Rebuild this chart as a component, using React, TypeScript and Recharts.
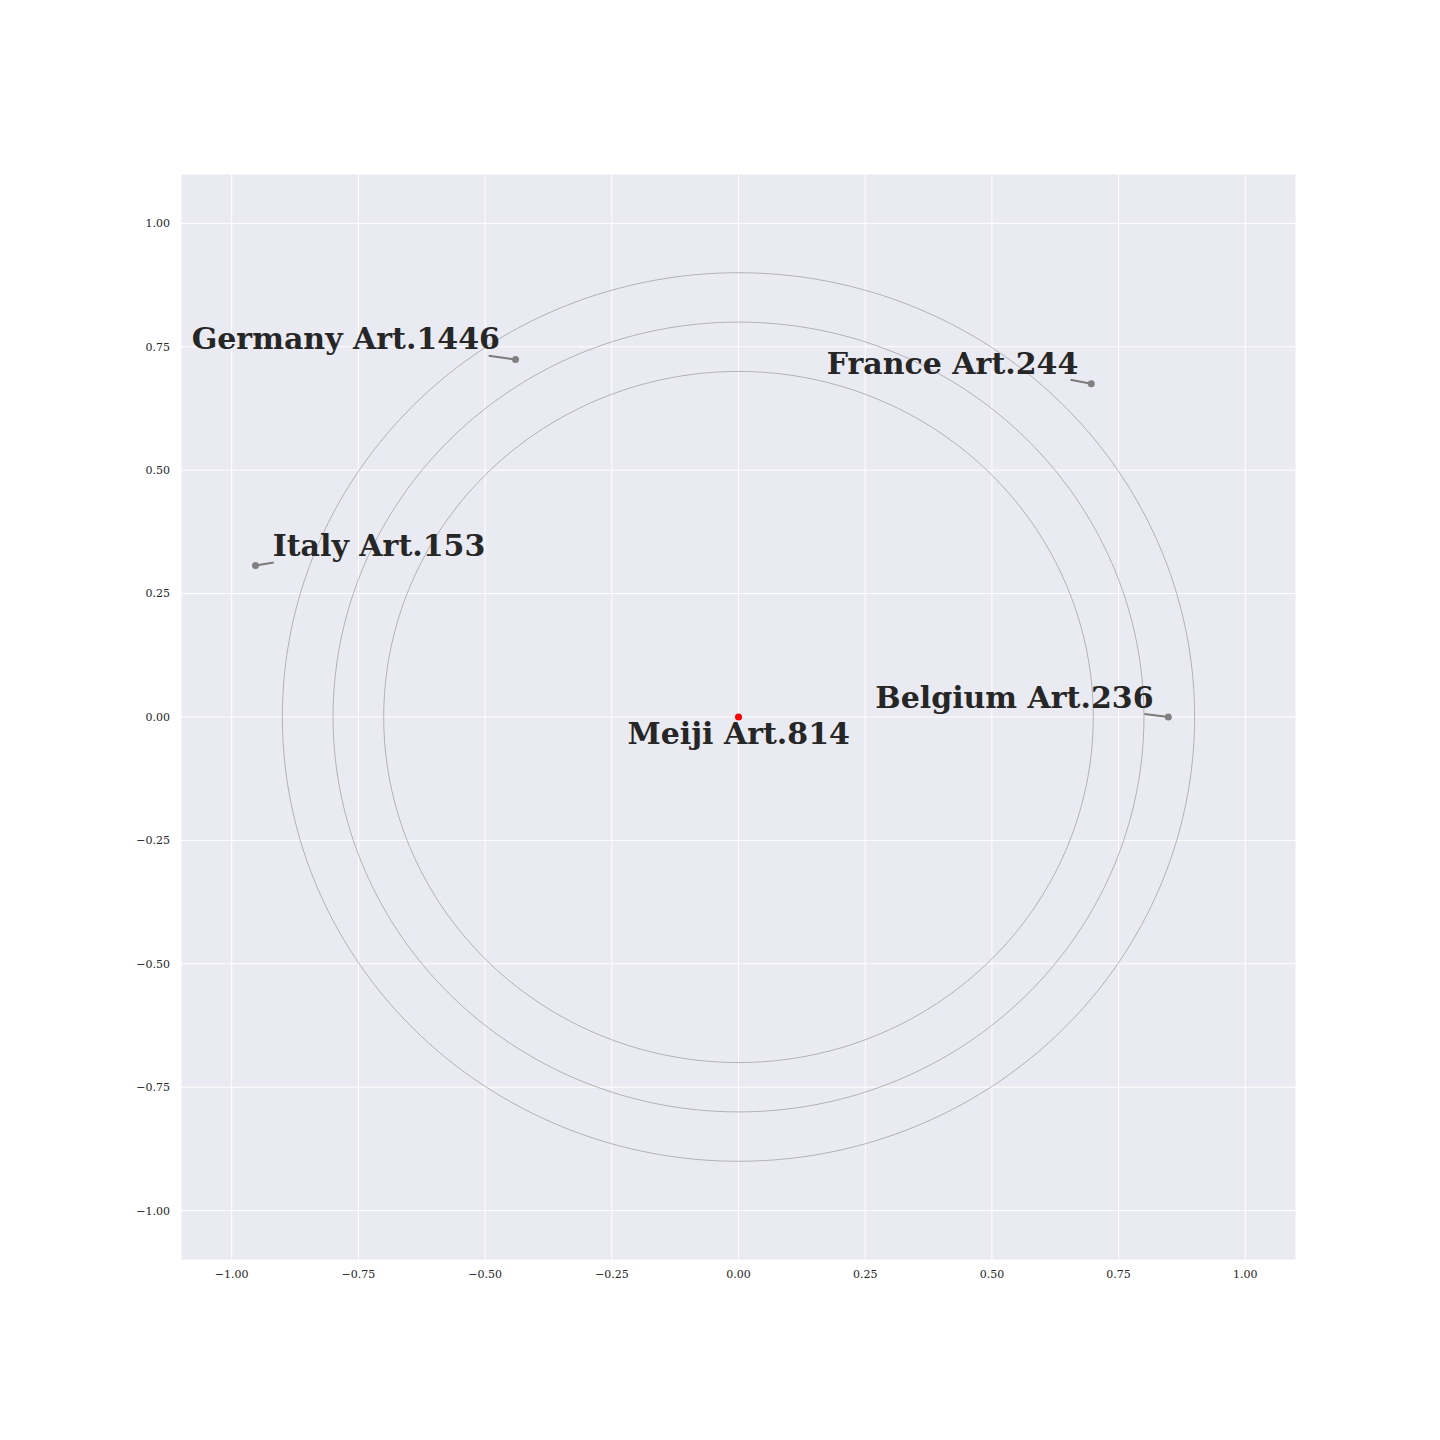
import React from 'react';
import { ScatterChart, Scatter, XAxis, YAxis, CartesianGrid } from 'recharts';

const ticks = [-1, -0.75, -0.5, -0.25, 0, 0.25, 0.5, 0.75, 1];
const radii = [0.7, 0.8, 0.9];

// country points
const countryX = [-0.44, 0.696, -0.953, 0.848];
const countryY = [0.724, 0.675, 0.307, 0.0];
// start of the short connector from label towards point
const connX = [-0.493, 0.655, -0.917, 0.801];
const connY = [0.732, 0.683, 0.313, 0.006];

const labels = ['Germany Art.1446', 'France Art.244', 'Italy Art.153', 'Belgium Art.236', 'Meiji Art.814'];
const labelX = [-1.079, 0.174, -0.919, 0.27, -0.219];
const labelY = [0.746, 0.694, 0.326, 0.018, -0.055];

const centerX = [0];
const centerY = [0];

const circleData = radii.map((r) => {
  const pts = [];
  for (let i = 0; i <= 360; i++) {
    const a = (i * Math.PI) / 180;
    pts.push({ x: r * Math.cos(a), y: r * Math.sin(a) });
  }
  return pts;
});

const connectors = countryX.map((x, i) => [
  { x: connX[i], y: connY[i] },
  { x, y: countryY[i] },
]);
const countryPts = countryX.map((x, i) => ({ x, y: countryY[i] }));
const centerPts = centerX.map((x, i) => ({ x, y: centerY[i] }));
const labelPts = labels.map((label, i) => ({ x: labelX[i], y: labelY[i], label }));

const fmt = (v: number) => (v < 0 ? '\u2212' : '') + Math.abs(v).toFixed(2);
const tickStyle = { fontFamily: 'DejaVu Serif', fontSize: 11, fill: '#262626' };
const nothing = () => <g />;

export default function App() {
  return (
    <div style={{ position: 'absolute', left: 0, top: 0, background: '#fff' }}>
      <ScatterChart width={1440} height={1440} margin={{ top: 174, right: 144, bottom: 150, left: 121 }}>
        <CartesianGrid fill="#EAEAF2" stroke="#ffffff" strokeWidth={1} />
        <XAxis
          type="number"
          dataKey="x"
          domain={[-1.1, 1.1]}
          ticks={ticks}
          tickFormatter={fmt}
          axisLine={false}
          tickLine={false}
          tickMargin={4}
          height={30}
          tick={tickStyle}
        />
        <YAxis
          type="number"
          dataKey="y"
          domain={[-1.1, 1.1]}
          ticks={ticks}
          tickFormatter={fmt}
          axisLine={false}
          tickLine={false}
          tickMargin={5}
          width={60}
          tick={tickStyle}
        />
        {circleData.map((d, i) => (
          <Scatter
            key={'c' + i}
            data={d}
            line={{ stroke: '#8c8c8c', strokeWidth: 0.6 }}
            lineType="joint"
            shape={nothing}
            isAnimationActive={false}
          />
        ))}
        {connectors.map((d, i) => (
          <Scatter
            key={'l' + i}
            data={d}
            line={{ stroke: '#7a7a7a', strokeWidth: 2 }}
            lineType="joint"
            shape={nothing}
            isAnimationActive={false}
          />
        ))}
        <Scatter
          data={countryPts}
          isAnimationActive={false}
          shape={(p: any) => <circle cx={p.cx} cy={p.cy} r={3.5} fill="#808080" />}
        />
        <Scatter
          data={centerPts}
          isAnimationActive={false}
          shape={(p: any) => <circle cx={p.cx} cy={p.cy} r={3.5} fill="#ff0000" />}
        />
        <Scatter
          data={labelPts}
          isAnimationActive={false}
          shape={(p: any) => (
            <text
              x={p.cx}
              y={p.cy}
              textAnchor="start"
              fontFamily="DejaVu Serif"
              fontWeight="bold"
              fontSize={30}
              fill="#262626"
            >
              {p.payload.label}
            </text>
          )}
        />
      </ScatterChart>
    </div>
  );
}
